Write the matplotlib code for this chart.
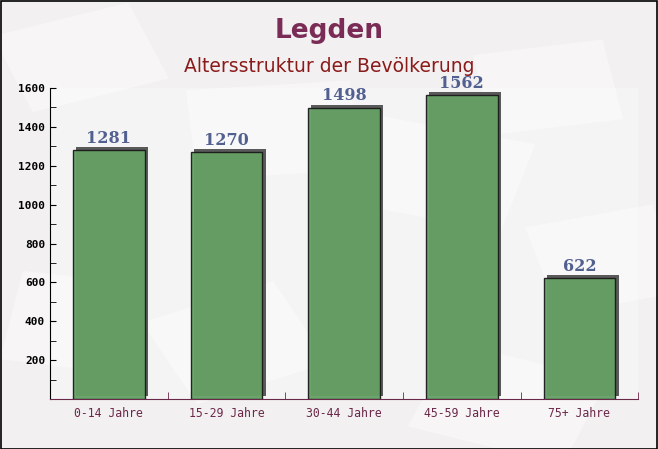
import matplotlib.pyplot as plt
import matplotlib.patheffects as pe
from matplotlib.patches import Rectangle
import numpy as np

# data
categories = ['0-14 Jahre', '15-29 Jahre', '30-44 Jahre', '45-59 Jahre', '75+ Jahre']
values = [1281, 1270, 1498, 1562, 622]
yticks = [200, 400, 600, 800, 1000, 1200, 1400, 1600]

fig = plt.figure(figsize=(6.58, 4.49), dpi=100)
fig.patch.set_facecolor('#f2f0f1')

# faint background "envelopes"
bg = fig.add_axes([0, 0, 1, 1], zorder=-5)
bg.set_xlim(0, 1)
bg.set_ylim(0, 1)
bg.axis('off')
env = [(0.05, 0.75, 0.22, 0.18, 20), (0.52, 0.55, 0.25, 0.2, -15), (0.75, 0.7, 0.2, 0.18, 10),
       (0.3, 0.1, 0.22, 0.2, 25), (0.62, 0.05, 0.25, 0.2, -20), (0.85, 0.3, 0.2, 0.2, 15),
       (0.0, 0.2, 0.15, 0.2, -10), (0.3, 0.6, 0.25, 0.2, 5)]
for x0, y0, w, h, ang in env:
    bg.add_patch(Rectangle((x0, y0), w, h, angle=ang, facecolor='white', alpha=0.4,
                           edgecolor='none'))
bg.add_patch(Rectangle((0.001, 0.001), 0.997, 0.997, fill=False, edgecolor='black', lw=1.2))

ax = fig.add_axes([0.076, 0.111, 0.894, 0.693])
ax.set_facecolor((1, 1, 1, 0.3))

x = np.arange(len(categories))
bars = ax.bar(x, values, width=0.61, color='#65a065', edgecolor='#1a1a1a', lw=1.0,
              alpha=0.95, zorder=3)
for b in bars:
    b.set_path_effects([pe.SimplePatchShadow(offset=(2.3, 2.3), shadow_rgbFace='#5a5a5a', alpha=1),
                        pe.Normal()])
    ax.annotate(f'{b.get_height():.0f}', (b.get_x() + b.get_width() / 2, b.get_height()),
                xytext=(0, 2.5), textcoords='offset points', ha='center', va='bottom',
                fontsize=11.5, fontweight='bold', family='DejaVu Serif', color='#52608f')

ax.set_xlim(-0.5, len(categories) - 0.5)
ax.set_ylim(0, 1600)
ax.set_yticks(yticks)
ax.set_yticks(np.arange(100, 1600, 100), minor=True)
ax.set_xticks(x)
ax.set_xticklabels(categories)
ax.set_xticks(np.arange(0.5, len(categories), 1), minor=True)
ax.tick_params(axis='x', which='major', length=0, pad=6, labelsize=8.3, labelcolor='#6b2748')
ax.tick_params(axis='x', which='minor', direction='in', length=5, color='#6b2748')
ax.tick_params(axis='y', which='both', direction='in', length=4, labelsize=8, color='black')
for lab in ax.get_xticklabels() + ax.get_yticklabels():
    lab.set_family('DejaVu Sans Mono')
for lab in ax.get_yticklabels():
    lab.set_fontweight('bold')
ax.spines['top'].set_visible(False)
ax.spines['right'].set_visible(False)
ax.spines['left'].set_color('black')
ax.spines['bottom'].set_color('#6b2748')

fig.text(0.5, 0.931, 'Legden', ha='center', va='center', fontsize=19, fontweight='bold',
         color='#7a2c56')
fig.text(0.5, 0.851, 'Altersstruktur der Bevölkerung', ha='center', va='center',
         fontsize=13.5, color='#8b1a1a')

fig.savefig('out.png', dpi=100, facecolor=fig.get_facecolor())
